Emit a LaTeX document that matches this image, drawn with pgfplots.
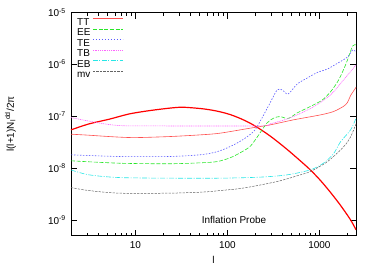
\documentclass[border=0pt]{standalone}
\usepackage{fontspec}
\setmainfont{Liberation Sans}
\usepackage{pgfplots}
\pgfplotsset{compat=1.18}
\definecolor{cTT}{RGB}{255,80,80}
\definecolor{cEE}{RGB}{40,230,40}
\definecolor{cTE}{RGB}{90,90,255}
\definecolor{cTB}{RGB}{255,100,255}
\definecolor{cEB}{RGB}{40,230,230}
\definecolor{cMV}{RGB}{100,100,100}
\pgfplotsset{myleg/.style={legend image code/.code={\draw[##1, line width=0.8bp] (4bp,0.35em) -- (34bp,0.35em);}}}
\begin{document}
\begin{tikzpicture}
\begin{axis}[
  at={(0,0)}, anchor=south west,
  scale only axis, width=285bp, height=223bp,
  xmode=log, ymode=log,
  xmin=2, xmax=2500, ymin=5e-10, ymax=1e-5,
  xtick={10,100,1000}, xticklabels={10,100,1000},
  minor xtick={2,3,4,5,6,7,8,9,20,30,40,50,60,70,80,90,200,300,400,500,600,700,800,900,2000},
  ytick={1e-9,1e-8,1e-7,1e-6,1e-5},
  yticklabels={10\textsuperscript{-9},10\textsuperscript{-8},10\textsuperscript{-7},10\textsuperscript{-6},10\textsuperscript{-5}},
  yminorticks=false,
  tick align=inside,
  major tick length=6bp, minor tick length=3bp,
  every tick/.style={black, line width=0.6bp},
  axis line style={black, line width=0.8bp},
  tick label style={font=\fontsize{10}{12}\selectfont, inner sep=0pt},
  xticklabel style={anchor=north, yshift=-6bp},
  yticklabel style={anchor=east, xshift=-5bp},
  xlabel={l}, ylabel={l(l+1)N\textsubscript{l}\textsuperscript{dd}/2π},
  label style={font=\fontsize{10}{12}\selectfont, inner sep=0pt},
  xlabel style={at={(axis description cs:0.5,-0.1274)}, anchor=base},
  ylabel style={at={(axis description cs:-0.2123,0.5)}, anchor=center},
  legend plot pos=right,
  legend cell align=left,
  legend style={at={(rel axis cs:0,1)}, anchor=north west, xshift=4bp, yshift=-4.3bp,
    draw=none, fill=none, inner sep=0pt, row sep=0pt, column sep=0pt,
    font=\fontsize{10}{12}\selectfont,
    nodes={inner xsep=2bp, inner ysep=0.5bp, text height=7.5bp, text depth=2bp}},
]
% signal (thick red, not in key)
\addplot[red, line width=1.2bp, smooth, forget plot] coordinates {
(2,5.45e-8)(3.14,7.11e-8)(5.2,8.75e-8)(8.6,1.107e-7)(14.2,1.28e-7)(23.5,1.43e-7)(32.6,1.49e-7)(50.1,1.41e-7)(64.4,1.33e-7)(82.8,1.22e-7)(106.5,1.08e-7)(136.9,9.11e-8)(176.2,7.36e-8)(226.6,5.64e-8)(306.4,3.89e-8)(447,2.28e-8)(620,1.38e-8)(797,9.23e-9)(1025,5.79e-9)(1319,3.40e-9)(1696,1.91e-9)(2183,1.0e-9)(2500,6.45e-10)};
% TT
\addplot[color=cTT, line width=0.6bp, smooth, myleg] coordinates {
(2,4.5e-8)(3.14,4.3e-8)(4.04,4.17e-8)(6.69,3.95e-8)(10.25,3.87e-8)(23.5,4.05e-8)(50.1,4.36e-8)(82.8,4.70e-8)(176,5.87e-8)(291,6.8e-8)(520,8.49e-8)(1025,1.06e-7)(1422,1.23e-7)(1829,1.55e-7)(2023,1.85e-7)(2183,2.5e-7)(2500,3.6e-7)};
\addlegendentry{TT}
% EE
\addplot[color=cEE, line width=0.6bp, dash pattern=on 4bp off 1.7bp, smooth, myleg] coordinates {
(2,1.38e-8)(6.69,1.24e-8)(23.5,1.21e-8)(50.1,1.26e-8)(76.8,1.33e-8)(106.5,1.57e-8)(136.9,1.96e-8)(176.2,2.6e-8)(215.4,4.17e-8)(270.2,7.43e-8)(322,9.27e-8)(375,9.82e-8)(458,9.07e-8)(575,1.16e-7)(703,1.38e-7)(860,1.65e-7)(1078,2.06e-7)(1319,2.94e-7)(1573,4.58e-7)(1784,7.14e-7)(2023,1.22e-6)(2295,2.26e-6)(2500,2.37e-6)};
\addlegendentry{EE}
% TE
\addplot[color=cTE, line width=0.6bp, dash pattern=on 1.5bp off 1.5bp, smooth, myleg] coordinates {
(2,1.8e-8)(6.69,1.67e-8)(23.5,1.67e-8)(50.1,1.8e-8)(73,2.01e-8)(93.9,2.34e-8)(127,3.02e-8)(163.3,3.99e-8)(199.8,5.45e-8)(238,9.27e-8)(291,1.8e-7)(347.5,3.21e-7)(394,3.21e-7)(458,2.69e-7)(575,4.19e-7)(740,5.47e-7)(951,6.98e-7)(1223,8.15e-7)(1573,1.05e-6)(2023,1.39e-6)(2295,1.89e-6)(2500,1.73e-6)};
\addlegendentry{TE}
% TB
\addplot[color=cTB, line width=0.6bp, dash pattern=on 1bp off 0.8bp, smooth, myleg] coordinates {
(2,9.4e-8)(4.04,7.4e-8)(6.69,6.6e-8)(14.2,6.5e-8)(226.6,6.5e-8)(291,7.1e-8)(482,9.3e-8)(860,1.51e-7)(1319,2.57e-7)(1829,5.0e-7)(2500,9.7e-7)};
\addlegendentry{TB}
% EB
\addplot[color=cEB, line width=0.6bp, dash pattern=on 5bp off 1.5bp on 1bp off 1.5bp, smooth, myleg] coordinates {
(2,9.2e-9)(3.14,7.4e-9)(6.69,6.56e-9)(23.5,6.38e-9)(82.8,6.38e-9)(226.6,6.68e-9)(447,7.4e-9)(797,9.23e-9)(1106,1.24e-8)(1422,1.88e-8)(1696,3.2e-8)(2183,5.45e-8)(2500,9.07e-8)};
\addlegendentry{EB}
% mv
\addplot[color=cMV, line width=0.5bp, dash pattern=on 2.3bp off 1.2bp, smooth, myleg] coordinates {
(2,4.2e-9)(3.14,3.68e-9)(6.69,3.28e-9)(23.5,3.28e-9)(54,3.44e-9)(82.8,3.68e-9)(147.7,4.1e-9)(347.5,5.5e-9)(620,7.4e-9)(797,8.57e-9)(1223,1.33e-8)(1829,2.56e-8)(2183,3.99e-8)(2500,7.11e-8)};
\addlegendentry{mv}
\node[anchor=base, inner sep=0pt, font=\fontsize{10}{12}\selectfont] at (rel axis cs:0.572,0.054) {Inflation Probe};
\end{axis}
\pgfresetboundingbox
\path[use as bounding box] (-71bp,-31.5bp) rectangle (303bp,235.5bp);
\end{tikzpicture}
\end{document}
